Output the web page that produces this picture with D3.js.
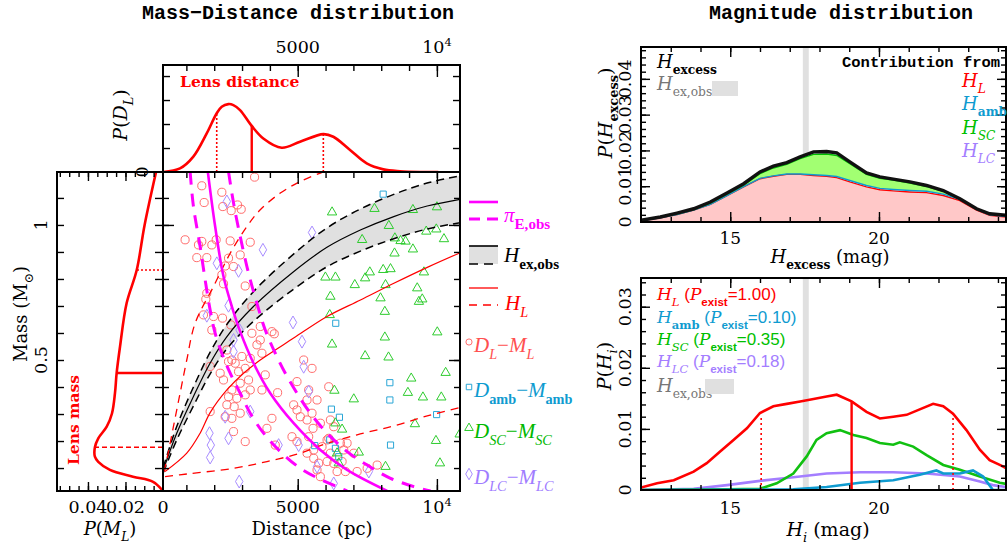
<!DOCTYPE html>
<html><head><meta charset="utf-8">
<script src="https://cdn.jsdelivr.net/npm/d3@7"></script>
<style>body{margin:0;background:#fff}</style>
</head><body>
<script>
const SERIF='DejaVu Serif', TIMES='Liberation Serif', MONO='Liberation Mono', SANS='Liberation Sans';
const RED='#ff0000', MAG='#ff00ff', BLUE='#0f9bd0', GREEN='#00c000', PURPLE='#a47eff', GREY='#e0e0e0';

// ---- mass-distance panel data (distance pc, mass Msun) ----
const bandD   = [170, 650, 1250, 1850, 2450, 3400, 4850, 6050, 7250, 8450, 9650, 10830];
const bandMid = [0.093, 0.228, 0.364, 0.488, 0.586, 0.697, 0.827, 0.917, 0.981, 1.031, 1.07, 1.095];
const bandHi  = [0.103, 0.253, 0.399, 0.528, 0.631, 0.752, 0.892, 0.989, 1.059, 1.113, 1.155, 1.182];
const bandLo  = [0.083, 0.203, 0.329, 0.448, 0.541, 0.642, 0.762, 0.845, 0.903, 0.949, 0.985, 1.008];
const hlMid = [[234,0.087],[1014,0.155],[1494,0.229],[1854,0.305],[2454,0.389],[3054,0.451],[3654,0.5],[4854,0.581],[6054,0.661],[7254,0.722],[8454,0.784],[9654,0.843],[10854,0.898]];
const hlUp  = [[198,0.087],[294,0.13],[534,0.253],[774,0.377],[1014,0.5],[1314,0.636],[1974,0.772],[2574,0.895],[3174,0.994],[3654,1.056],[4374,1.118],[5094,1.161],[5814,1.192],[6054,1.2]];
const hlLow = [[234,0.068],[1014,0.078],[2694,0.099],[3894,0.124],[5094,0.155],[5814,0.183],[7134,0.223],[8454,0.256],[9654,0.293],[10854,0.325]];
const piMid = [[1770,1.197],[2034,0.994],[2334,0.809],[2634,0.698],[2934,0.605],[3414,0.488],[4014,0.377],[4854,0.266],[5814,0.167],[6774,0.093],[8214,0.015]];
const piLo  = [[1134,1.197],[1254,1.068],[1494,0.92],[1674,0.797],[1854,0.685],[2034,0.599],[2274,0.525],[2574,0.451],[2934,0.377],[3294,0.303],[3774,0.229],[4374,0.161],[5094,0.099],[5814,0.058],[6414,0.031],[6774,0.015]];
const piHi  = [[2514,1.197],[2694,1.081],[2934,0.957],[3234,0.821],[3534,0.71],[3834,0.611],[4194,0.525],[4554,0.451],[4974,0.377],[5454,0.303],[6054,0.229],[6774,0.161],[7494,0.111],[8334,0.062],[9174,0.031],[9774,0.015]];

const lensPts = [[3450,1.177],[1554,1.145],[2274,1.121],[1638,1.083],[2310,1.068],[2610,1.053],[2838,1.074],[2970,1.058],
 [954,0.945],[1554,0.939],[1434,0.926],[1914,0.926],[1374,0.879],[1734,0.879],[2574,0.941],[3294,0.936],[2934,0.889],[2514,0.877],[2070,0.945],
 [2694,0.846],[2394,0.848],[2274,0.815],[2334,0.782],[3114,0.774],[1734,0.747],[1698,0.725],[1614,0.667],[1974,0.661],[2298,0.655],[1914,0.611],
 [2598,0.63],[3354,0.698],[3654,0.624],[4074,0.605],[4158,0.597],[3354,0.599],[3534,0.556],[3714,0.525],[3654,0.574],[2454,0.537],[2514,0.494],
 [2634,0.5],[2754,0.488],[1854,0.476],[2874,0.457],[3114,0.469],[3294,0.506],[3834,0.445],[2334,0.426],[2934,0.414],[3294,0.389],[3714,0.389],
 [2634,0.389],[2514,0.364],[2814,0.358],[3114,0.371],[2454,0.334],[2718,0.327],[1854,0.309],[2394,0.29],[2634,0.284],[2934,0.303],[2694,0.235],
 [3114,0.198],[3894,0.247],[4074,0.284],[4278,0.379],[4854,0.334],[4974,0.315],[5214,0.5],[5514,0.469],[4974,0.42],[5394,0.389],[5334,0.352],
 [5694,0.352],[6114,0.401],[5094,0.29],[5334,0.278],[5814,0.266],[6174,0.278],[6294,0.253],[5550,0.247],[4194,0.185],[4794,0.216],[4974,0.198],
 [5574,0.167],[5874,0.179],[6534,0.192],[6774,0.192],[7014,0.155],[6174,0.155],[5754,0.118],[5694,0.093],[5814,0.068],[6054,0.124],[6414,0.087],
 [6714,0.087],[7134,0.087],[7494,0.099],[7854,0.111],[5334,0.155],[6294,0.117],[6054,0.204],[5514,0.303],[5394,0.216],[6114,0.21],[6654,0.167],
 [6594,0.124],[5574,0.136],[2994,0.513],[2214,0.451],[3234,0.426]];
const ambPts = [[8070,1.114],[6366,0.636],[8310,0.416],[8310,0.352],[6210,0.318],[6498,0.288],[9990,0.298],[5610,0.183],[6150,0.204],[8334,0.185],[6474,0.142],[6354,0.173]];
const scPts = [[6234,1.047],[7758,1.06],[9138,1.056],[10002,1.066],[8274,0.997],[9618,0.976],[9978,0.984],[10254,0.948],[7314,0.945],[8490,0.951],
 [8694,0.941],[8874,0.939],[9138,0.91],[8478,0.895],[7590,0.825],[7422,0.803],[8070,0.834],[8334,0.837],[9534,0.825],[5994,0.806],[6354,0.806],
 [7050,0.778],[8154,0.778],[9294,0.766],[6174,0.735],[7974,0.729],[9354,0.716],[9474,0.725],[8130,0.679],[6150,0.667],[10014,0.603],[8130,0.584],
 [6234,0.558],[7422,0.515],[8262,0.51],[10314,0.453],[9078,0.432],[6318,0.387],[7014,0.355],[8958,0.379],[9498,0.362],[10158,0.362],[9210,0.263],
 [6594,0.243],[6354,0.266],[10818,0.225],[9966,0.201],[7194,0.158],[6414,0.155],[6474,0.118],[8154,0.105],[10110,0.118]];
const lcPts = [[2454,1.087],[5514,0.972],[3750,0.908],[2094,0.858],[2874,0.83],[2514,0.701],[1734,0.664],[4830,0.639],[2910,0.611],[5154,0.568],
 [2694,0.574],[2694,0.531],[5214,0.475],[5394,0.383],[2394,0.29],[3294,0.309],[1830,0.229],[2514,0.21],[1878,0.185],[1854,0.139],[4314,0.185],
 [5034,0.185],[5694,0.105],[2898,0.05],[6294,0.043],[7554,0.087]];

// ---- marginal distributions ----
const pDL = [[172,0],[772,0.15],[1250,0.64],[1731,1.61],[2090,2.45],[2270,2.72],[2507,2.83],[2687,2.79],[2928,2.58],[3348,1.92],[3764,1.4],[4425,1.01],
 [5083,1.26],[5920,1.58],[6279,1.47],[6879,0.92],[7478,0.36],[8075,0.11],[8675,0.03],[9400,0],[10050,0]];
const pDLmarks = [[2090,2.45,'dot'],[3348,1.92,'solid'],[5920,1.58,'dot']];
const pML = [[1.196,0.0037],[1.0,0.0098],[0.833,0.014],[0.71,0.0194],[0.55,0.0229],[0.452,0.0247],[0.377,0.0256],[0.302,0.0272],[0.253,0.030],
 [0.21,0.0345],[0.177,0.0363],[0.142,0.0363],[0.123,0.0345],[0.093,0.0283],[0.068,0.016],[0.049,0.0053],[0.015,0]];
const pMLmarks = [[0.833,0.014,'dot'],[0.452,0.0247,'solid'],[0.177,0.0363,'dash']];

// ---- H_excess stacked (cumulative tops) ----
const hexMag = [12,12.65,13.21,13.77,14.33,14.89,15.45,16.0,16.45,16.9,17.35,17.8,18.24,18.58,19.02,19.58,20.03,20.48,21.04,21.6,22.16,22.72,23.28,23.72,24.27];
const hexL   = [0.0003,0.0012,0.0021,0.0033,0.0049,0.0074,0.0098,0.0121,0.0128,0.0133,0.0133,0.013,0.0128,0.0124,0.0112,0.0098,0.009,0.0087,0.0084,0.0082,0.0074,0.006,0.0033,0.0019,0.0014];
const hexAmb = [0.0003,0.0012,0.0021,0.0033,0.0049,0.0074,0.0099,0.0122,0.0129,0.0134,0.0134,0.0132,0.013,0.0127,0.0116,0.0102,0.0094,0.0091,0.0088,0.0086,0.0078,0.0063,0.0035,0.002,0.0015];
const hexSC  = [0.00045,0.0013,0.0023,0.0035,0.0053,0.0078,0.0103,0.0135,0.0151,0.0161,0.0177,0.0189,0.019,0.0186,0.0163,0.0133,0.0122,0.0117,0.0109,0.0099,0.0086,0.0064,0.0036,0.0022,0.0018];
const hexTot = [0.00047,0.0014,0.0025,0.0037,0.0056,0.0081,0.0107,0.014,0.0156,0.0166,0.0182,0.0196,0.0197,0.0193,0.0168,0.0137,0.0126,0.012,0.0112,0.0102,0.0088,0.0065,0.0037,0.0023,0.0019];
const hexObs = [17.44, 17.64];

// ---- individual H distributions ----
const hiL = [[12,0.0004],[12.54,0.0011],[13.1,0.0016],[13.77,0.003],[14.21,0.0044],[14.66,0.0063],[15.11,0.0082],[15.56,0.0101],[16.0,0.0126],
 [16.45,0.0137],[16.9,0.0141],[17.35,0.0145],[17.8,0.0149],[18.24,0.0153],[18.58,0.0156],[19.08,0.0145],[19.58,0.0128],[20.03,0.0117],[20.48,0.012],
 [20.93,0.0123],[21.37,0.0132],[21.82,0.0141],[22.16,0.0137],[22.49,0.0125],[22.94,0.0098],[23.39,0.0066],[23.72,0.0049],[24.06,0.0041],[24.27,0.0036]];
const hiSC = [[12,0],[14.89,0.0001],[16.0,0.0002],[16.56,0.0011],[17.12,0.0027],[17.57,0.0055],[17.9,0.0082],[18.24,0.0093],[18.69,0.0098],[19.14,0.009],
 [19.58,0.0085],[20.03,0.0077],[20.48,0.0074],[20.7,0.0078],[21.15,0.0071],[21.6,0.0057],[22.16,0.0041],[22.72,0.0033],[23.39,0.0022],[24.06,0.0012],[24.27,0.001]];
const hiLC = [[12,0],[13.77,0.0002],[14.89,0.0008],[16.0,0.0015],[17.12,0.0021],[18.24,0.0027],[19.36,0.0029],[20.48,0.0029],[21.6,0.0027],[22.72,0.0022],
 [23.39,0.0014],[23.83,0.0008],[24.27,0.0005]];
const hiAmb = [[12,0],[17.12,0.0001],[18.24,0.0005],[19.36,0.0012],[20.48,0.0016],[21.37,0.0025],[21.93,0.0032],[22.16,0.0027],[22.72,0.0027],
 [23.16,0.0032],[23.5,0.0022],[23.83,0],[24.27,0]];
const hiLmarks = [[16.04,0.012,'dot'],[19.08,0.0145,'solid'],[22.49,0.0125,'dot']];

// ---- tick labels ----
const distLabels = [[5000,'5000'],[10000,'10']];
const massLabels = [[1,'1'],[0.5,'0.5']];
const pmLabels = [[0.04,'0.04'],[0.02,'0.02']];
const magLabels = [15, 20];
const hexLabels = [0, 0.01, 0.02, 0.03, 0.04];
const hiLabels = [0, 0.01, 0.02, 0.03];

// ---- scales ----
const xD = d3.scaleLinear().domain([160, 10830]).range([163, 460]);
const yM = d3.scaleLinear().domain([0.015, 1.196]).range([491, 172]);
const yPD = d3.scaleLinear().domain([0, 4.46]).range([172, 65]);
const xPM = d3.scaleLinear().domain([0, 0.0565]).range([163, 57]);
const xH = d3.scaleLinear().domain([12, 24.27]).range([641, 1006]);
const yHex = d3.scaleLinear().domain([0, 0.0489]).range([222, 47]);
const yHi = d3.scaleLinear().domain([0, 0.0347]).range([490, 278]);

const svg = d3.select('body').append('svg').attr('width', 1008).attr('height', 550).style('font-family', SERIF);
svg.append('rect').attr('width', 1008).attr('height', 550).attr('fill', '#fff');
const defs = svg.append('defs');

function panel(id, xs, ys) {
    var x0 = Math.min(xs.range()[0], xs.range()[1]), x1 = Math.max(xs.range()[0], xs.range()[1]);
    var y0 = Math.min(ys.range()[0], ys.range()[1]), y1 = Math.max(ys.range()[0], ys.range()[1]);
    defs.append('clipPath').attr('id', id).append('rect').attr('x', x0).attr('y', y0).attr('width', x1-x0).attr('height', y1-y0);
    return {g: svg.append('g').attr('clip-path', 'url(#'+id+')'), x0: x0, x1: x1, y0: y0, y1: y1};
}
function frame(p) {
    svg.append('rect').attr('x', p.x0).attr('y', p.y0).attr('width', p.x1-p.x0).attr('height', p.y1-p.y0)
        .attr('fill', 'none').attr('stroke', '#000').attr('stroke-width', 2);
}
function ticks(axis, scale, vals, len, tx, ty) {
    svg.append('g').attr('transform', 'translate('+tx+','+ty+')')
        .call(axis(scale).tickValues(vals).tickSize(len).tickFormat(''))
        .call(g => g.select('.domain').remove())
        .selectAll('line').attr('stroke', '#000').attr('stroke-width', 1.4);
}
// text with italic/bold/subscript parts: [text, flags, font]
function mtext(x, y, parts, o) {
    var t = svg.append('text').attr('x', x).attr('y', y).attr('font-size', o.size)
        .attr('font-family', o.font || SERIF).attr('fill', o.color || '#000');
    if (o.anchor) t.attr('text-anchor', o.anchor);
    if (o.rot) t.attr('transform', 'rotate('+o.rot+','+x+','+y+')');
    if (o.weight) t.attr('font-weight', o.weight);
    var shift = 0;
    parts.forEach(function(p) {
        var f = p[1] || '';
        var ts = t.append('tspan').text(p[0]);
        var want = f.includes('s') ? o.size*0.33 : (f.includes('^') ? -o.size*0.4 : 0);
        if (want !== shift) { ts.attr('dy', want - shift); shift = want; }
        if (f.includes('i')) ts.attr('font-style', 'italic');
        if (f.includes('b')) ts.attr('font-weight', 'bold');
        if (f.includes('s') || f.includes('^')) ts.attr('font-size', o.size*(o.sub || 0.68));
        if (p[2]) ts.attr('font-family', p[2]);
    });
    return t;
}
const smooth = d3.curveCatmullRom;

// ================= main mass-distance panel =================
const mainP = panel('cm', xD, yM);
const lineDM = d3.line().x(d => xD(d[0])).y(d => yM(d[1])).curve(smooth);
const band = d3.zip(bandD, bandLo, bandMid, bandHi);
mainP.g.append('path').datum(band).attr('fill', GREY)
    .attr('d', d3.area().x(d => xD(d[0])).y0(d => yM(d[1])).y1(d => yM(d[3])).curve(smooth));

const pts = mainP.g.append('g').attr('fill', 'none').attr('stroke-width', 1);
function scatter(data, type, size, color) {
    pts.selectAll(null).data(data).enter().append('path')
        .attr('transform', d => 'translate('+xD(d[0])+','+yM(d[1])+')')
        .attr('d', d3.symbol().type(type).size(size)).attr('stroke', color);
}
scatter(lensPts, d3.symbolCircle, 52, '#ff6e6e');
scatter(lcPts, d3.symbolDiamond, 48, '#a88cff');
scatter(ambPts, d3.symbolSquare, 38, '#2aa6d6');
scatter(scPts, d3.symbolTriangle, 38, '#2ecc2e');

mainP.g.append('path').datum(band.map(d => [d[0], d[2]])).attr('d', lineDM).attr('fill', 'none').attr('stroke', '#000').attr('stroke-width', 1.2);
mainP.g.append('path').datum(band.map(d => [d[0], d[1]])).attr('d', lineDM).attr('fill', 'none').attr('stroke', '#000').attr('stroke-width', 1.5).attr('stroke-dasharray', '8,5');
mainP.g.append('path').datum(band.map(d => [d[0], d[3]])).attr('d', lineDM).attr('fill', 'none').attr('stroke', '#000').attr('stroke-width', 1.5).attr('stroke-dasharray', '8,5');
mainP.g.append('path').datum(hlMid).attr('d', lineDM).attr('fill', 'none').attr('stroke', RED).attr('stroke-width', 1.2);
[hlUp, hlLow].forEach(c => mainP.g.append('path').datum(c).attr('d', lineDM).attr('fill', 'none').attr('stroke', RED).attr('stroke-width', 1.3).attr('stroke-dasharray', '8,6'));
mainP.g.append('path').datum(piMid).attr('d', lineDM).attr('fill', 'none').attr('stroke', MAG).attr('stroke-width', 2.6);
[piLo, piHi].forEach(c => mainP.g.append('path').datum(c).attr('d', lineDM).attr('fill', 'none').attr('stroke', MAG).attr('stroke-width', 3).attr('stroke-dasharray', '13,9'));
frame(mainP);

// ================= top: P(D_L) =================
const topP = panel('ct', xD, yPD);
topP.g.append('path').datum(pDL).attr('fill', 'none').attr('stroke', RED).attr('stroke-width', 2.6)
    .attr('d', d3.line().x(d => xD(d[0])).y(d => yPD(d[1])).curve(smooth));
topP.g.selectAll(null).data(pDLmarks).enter().append('line')
    .attr('x1', d => xD(d[0])).attr('x2', d => xD(d[0])).attr('y1', yPD(0)).attr('y2', d => yPD(d[1]))
    .attr('stroke', RED).attr('stroke-width', d => d[2] === 'solid' ? 2.4 : 1.6)
    .attr('stroke-dasharray', d => d[2] === 'solid' ? null : '2,2');
frame(topP);

// ================= left: P(M_L) =================
const leftP = panel('cl', xPM, yM);
leftP.g.append('path').datum(pML).attr('fill', 'none').attr('stroke', RED).attr('stroke-width', 2.6)
    .attr('d', d3.line().x(d => xPM(d[1])).y(d => yM(d[0])).curve(smooth));
leftP.g.selectAll(null).data(pMLmarks).enter().append('line')
    .attr('y1', d => yM(d[0])).attr('y2', d => yM(d[0])).attr('x1', xPM(0)).attr('x2', d => xPM(d[1]))
    .attr('stroke', RED).attr('stroke-width', d => d[2] === 'solid' ? 2.4 : 1.4)
    .attr('stroke-dasharray', d => d[2] === 'solid' ? null : (d[2] === 'dot' ? '2,2' : '5,3'));
frame(leftP);

// ticks for the left block
const dMinor = d3.range(1000, 10001, 1000), dMajor = [5000, 10000];
const mMinor = d3.range(0.1, 1.15, 0.1), mMajor = [0.5, 1.0];
ticks(d3.axisTop, xD, dMinor, 6, 0, 491); ticks(d3.axisTop, xD, dMajor, 12, 0, 491);
ticks(d3.axisBottom, xD, dMinor, 6, 0, 172); ticks(d3.axisBottom, xD, dMajor, 12, 0, 172);
ticks(d3.axisBottom, xD, dMinor, 6, 0, 65); ticks(d3.axisBottom, xD, dMajor, 12, 0, 65);
ticks(d3.axisRight, yM, mMinor, 6, 163, 0); ticks(d3.axisRight, yM, mMajor, 11, 163, 0);
ticks(d3.axisLeft, yM, mMinor, 6, 460, 0); ticks(d3.axisLeft, yM, mMajor, 11, 460, 0);
ticks(d3.axisRight, yM, mMinor, 7, 57, 0);
ticks(d3.axisLeft, yM, mMinor, 8, 163, 0);
ticks(d3.axisRight, yPD, [1, 2, 3, 4], 7, 163, 0); ticks(d3.axisLeft, yPD, [1, 2, 3, 4], 7, 460, 0);
const pmMinor = d3.range(0.005, 0.056, 0.005);
ticks(d3.axisTop, xPM, pmMinor, 5, 0, 491); ticks(d3.axisTop, xPM, [0.02, 0.04], 9, 0, 491);
ticks(d3.axisBottom, xPM, pmMinor, 5, 0, 172); ticks(d3.axisBottom, xPM, [0.02, 0.04], 9, 0, 172);

// labels of the left block
const NUM = 17.5;
mtext(298, 19, [['Mass\u2212Distance distribution']], {size: 20, font: MONO, weight: 'bold', anchor: 'middle'});
distLabels.forEach(function(l) {
    var parts = l[1] === '10' ? [['10'], ['4', '^']] : [[l[1]]];
    mtext(xD(l[0]), 53, parts, {size: NUM, anchor: 'middle', sub: 0.65});
    mtext(xD(l[0]), 513, parts, {size: NUM, anchor: 'middle', sub: 0.65});
});
mtext(xD.range()[0], 513, [['0']], {size: NUM, anchor: 'middle'});
pmLabels.forEach(l => mtext(xPM(l[0]), 513, [[l[1]]], {size: NUM, anchor: 'middle'}));
massLabels.forEach(l => mtext(47, yM(l[0]), [[l[1]]], {size: NUM, anchor: 'middle', rot: -90}));
mtext(148, yPD(0), [['0']], {size: NUM, anchor: 'middle', rot: -90});
mtext(312, 535, [['Distance (pc)']], {size: 18, anchor: 'middle'});
mtext(110, 535, [['P', 'i'], ['('], ['M', 'i'], ['L', 'is'], [')']], {size: 18, anchor: 'middle'});
mtext(27, 314, [['Mass (M'], ['\u2299', 's'], [')']], {size: 18, anchor: 'middle', rot: -90});
mtext(127, 115, [['P', 'i'], ['('], ['D', 'i'], ['L', 'is'], [')']], {size: 19, anchor: 'middle', rot: -90});
mtext(180, 87, [['Lens distance']], {size: 15.5, weight: 'bold', color: RED});
mtext(79, 420, [['Lens mass']], {size: 15.5, weight: 'bold', color: RED, anchor: 'middle', rot: -90});

// legend of the main panel
const lg = svg.append('g');
lg.append('line').attr('x1', 469).attr('x2', 498).attr('y1', 202).attr('y2', 202).attr('stroke', MAG).attr('stroke-width', 2.6);
lg.append('line').attr('x1', 469).attr('x2', 498).attr('y1', 219).attr('y2', 219).attr('stroke', MAG).attr('stroke-width', 3).attr('stroke-dasharray', '11,7');
mtext(504, 222, [['\u03c0', 'i'], ['E,obs', 'sb']], {size: 21, font: TIMES, color: MAG, sub: 0.72});
lg.append('rect').attr('x', 469).attr('y', 246).attr('width', 29).attr('height', 18).attr('fill', GREY);
lg.append('line').attr('x1', 469).attr('x2', 498).attr('y1', 246).attr('y2', 246).attr('stroke', '#000').attr('stroke-width', 1.6);
lg.append('line').attr('x1', 469).attr('x2', 498).attr('y1', 264).attr('y2', 264).attr('stroke', '#000').attr('stroke-width', 1.6).attr('stroke-dasharray', '9,6');
mtext(504, 262, [['H', 'i'], ['ex,obs', 'sb']], {size: 21, font: TIMES, sub: 0.72});
lg.append('line').attr('x1', 469).attr('x2', 498).attr('y1', 288).attr('y2', 288).attr('stroke', RED).attr('stroke-width', 1.3);
lg.append('line').attr('x1', 469).attr('x2', 498).attr('y1', 305).attr('y2', 305).attr('stroke', RED).attr('stroke-width', 1.3).attr('stroke-dasharray', '8,6');
mtext(505, 310, [['H', 'i'], ['L', 'is']], {size: 21, font: TIMES, color: RED});
const legPts = [
    [d3.symbolCircle, 30, '#ff6e6e', '#ff5050', 342, [['D', 'i'], ['L', 'is'], ['\u2212'], ['M', 'i'], ['L', 'is']]],
    [d3.symbolSquare, 30, '#2aa6d6', '#0f9bd0', 387, [['D', 'i'], ['amb', 'sb'], ['\u2212'], ['M', 'i'], ['amb', 'sb']]],
    [d3.symbolTriangle, 32, '#2ecc2e', '#00b800', 428, [['D', 'i'], ['SC', 'is'], ['\u2212'], ['M', 'i'], ['SC', 'is']]],
    [d3.symbolDiamond, 38, '#a88cff', '#a07cff', 474, [['D', 'i'], ['LC', 'is'], ['\u2212'], ['M', 'i'], ['LC', 'is']]]
];
legPts.forEach(function(p) {
    lg.append('path').attr('transform', 'translate(469,'+p[4]+')').attr('d', d3.symbol().type(p[0]).size(p[1]))
        .attr('fill', 'none').attr('stroke', p[2]);
    mtext(474, p[4]+10, p[5], {size: 21, font: TIMES, color: p[3]});
});

// ================= right top: H_excess =================
const hx = panel('ch', xH, yHex);
hx.g.append('rect').attr('x', xH(hexObs[0])).attr('width', xH(hexObs[1]) - xH(hexObs[0]))
    .attr('y', hx.y0).attr('height', hx.y1 - hx.y0).attr('fill', GREY);
const hexRows = hexMag.map((m, i) => ({m: m, l: hexL[i], a: hexAmb[i], s: hexSC[i], t: hexTot[i]}));
const areaH = (lo, hi) => d3.area().x(d => xH(d.m)).y0(d => yHex(lo(d))).y1(d => yHex(hi(d)));
const lineH = f => d3.line().x(d => xH(d.m)).y(d => yHex(f(d)));
hx.g.append('path').datum(hexRows).attr('d', areaH(d => 0, d => d.l)).attr('fill', '#ffc8c8');
hx.g.append('path').datum(hexRows).attr('d', areaH(d => d.a, d => d.s)).attr('fill', '#a2ff72');
hx.g.append('path').datum(hexRows).attr('d', areaH(d => d.s, d => d.t)).attr('fill', '#e4d8ff');
hx.g.append('path').datum(hexRows).attr('d', lineH(d => d.l)).attr('fill', 'none').attr('stroke', RED).attr('stroke-width', 1.4);
hx.g.append('path').datum(hexRows).attr('d', lineH(d => d.a)).attr('fill', 'none').attr('stroke', BLUE).attr('stroke-width', 1.4);
hx.g.append('path').datum(hexRows).attr('d', lineH(d => d.s)).attr('fill', 'none').attr('stroke', GREEN).attr('stroke-width', 1.4);
hx.g.append('path').datum(hexRows).attr('d', lineH(d => d.t)).attr('fill', 'none').attr('stroke', '#111').attr('stroke-width', 3.4);
frame(hx);

// ================= right bottom: H_i =================
const hiP = panel('ci', xH, yHi);
hiP.g.append('rect').attr('x', xH(hexObs[0])).attr('width', xH(hexObs[1]) - xH(hexObs[0]))
    .attr('y', hiP.y0).attr('height', hiP.y1 - hiP.y0).attr('fill', GREY);
const lineI = d3.line().x(d => xH(d[0])).y(d => yHi(d[1]));
[[hiLC, PURPLE], [hiSC, '#11c011'], [hiAmb, BLUE], [hiL, RED]].forEach(c =>
    hiP.g.append('path').datum(c[0]).attr('d', lineI).attr('fill', 'none').attr('stroke', c[1]).attr('stroke-width', 2.6));
hiP.g.selectAll(null).data(hiLmarks).enter().append('line')
    .attr('x1', d => xH(d[0])).attr('x2', d => xH(d[0])).attr('y1', yHi(0)).attr('y2', d => yHi(d[1]))
    .attr('stroke', RED).attr('stroke-width', d => d[2] === 'solid' ? 2.4 : 1.6)
    .attr('stroke-dasharray', d => d[2] === 'solid' ? null : '2,3');
frame(hiP);

// right ticks
const magMinor = d3.range(13, 25, 1);
[[222, 47], [490, 278]].forEach(function(r) {
    ticks(d3.axisTop, xH, magMinor, 5, 0, r[0]); ticks(d3.axisTop, xH, magLabels, 10, 0, r[0]);
    ticks(d3.axisBottom, xH, magMinor, 5, 0, r[1]); ticks(d3.axisBottom, xH, magLabels, 10, 0, r[1]);
});
ticks(d3.axisRight, yHex, d3.range(0.002, 0.049, 0.002), 5, 641, 0); ticks(d3.axisRight, yHex, [0.01, 0.02, 0.03, 0.04], 9, 641, 0);
ticks(d3.axisLeft, yHex, d3.range(0.002, 0.049, 0.002), 5, 1006, 0); ticks(d3.axisLeft, yHex, [0.01, 0.02, 0.03, 0.04], 9, 1006, 0);
ticks(d3.axisRight, yHi, d3.range(0.002, 0.0347, 0.002), 5, 641, 0); ticks(d3.axisRight, yHi, [0.01, 0.02, 0.03], 9, 641, 0);
ticks(d3.axisLeft, yHi, d3.range(0.002, 0.0347, 0.002), 5, 1006, 0); ticks(d3.axisLeft, yHi, [0.01, 0.02, 0.03], 9, 1006, 0);

// right labels
mtext(841, 19, [['Magnitude distribution']], {size: 20, font: MONO, weight: 'bold', anchor: 'middle'});
magLabels.forEach(m => { mtext(xH(m), 244, [[String(m)]], {size: 17, anchor: 'middle'}); mtext(xH(m), 514, [[String(m)]], {size: 17, anchor: 'middle'}); });
hexLabels.forEach(v => mtext(631, yHex(v), [[String(v)]], {size: NUM, anchor: 'middle', rot: -90}));
hiLabels.forEach(v => mtext(631, yHi(v), [[String(v)]], {size: NUM, anchor: 'middle', rot: -90}));
mtext(830, 263, [['H', 'i'], ['excess', 'sb'], [' (mag)']], {size: 18, anchor: 'middle'});
mtext(828, 536, [['H', 'i'], ['i', 'is'], [' (mag)']], {size: 19, anchor: 'middle'});
mtext(612, 113, [['P', 'i'], ['('], ['H', 'i'], ['excess', 'sb'], [')']], {size: 19, anchor: 'middle', rot: -90});
mtext(611, 366, [['P', 'i'], ['('], ['H', 'i'], ['i', 'is'], [')']], {size: 19, anchor: 'middle', rot: -90});

mtext(657, 68, [['H', 'i'], ['excess', 'sb']], {size: 18});
mtext(657, 90, [['H', 'i'], ['ex,obs', 's']], {size: 18, color: '#777'});
svg.append('rect').attr('x', 712).attr('y', 81).attr('width', 26).attr('height', 15).attr('fill', GREY);
mtext(842, 67, [['Contribution from']], {size: 15.5, font: MONO, weight: 'bold'});
[[87, [['H', 'i'], ['L', 'is']], RED], [110, [['H', 'i'], ['amb', 'sb']], BLUE],
 [134, [['H', 'i'], ['SC', 'is']], GREEN], [157, [['H', 'i'], ['LC', 'is']], PURPLE]]
    .forEach(r => mtext(962, r[0], r[1], {size: 18, color: r[2]}));

const pex = v => [[' (', '', SANS], ['P', 'i'], ['exist', 'sb', SANS], ['='+v+')', '', SANS]];
[[300, [['H', 'i'], ['L', 'is']], '1.00', RED], [323, [['H', 'i'], ['amb', 'sb']], '0.10', BLUE],
 [345, [['H', 'i'], ['SC', 'is']], '0.35', GREEN], [367, [['H', 'i'], ['LC', 'is']], '0.18', PURPLE]]
    .forEach(r => mtext(657, r[0], r[1].concat(pex(r[2])), {size: 17, color: r[3]}));
mtext(657, 392, [['H', 'i'], ['ex,obs', 's']], {size: 18, color: '#777'});
svg.append('rect').attr('x', 705).attr('y', 379).attr('width', 29).attr('height', 15).attr('fill', GREY);
</script>
</body></html>
